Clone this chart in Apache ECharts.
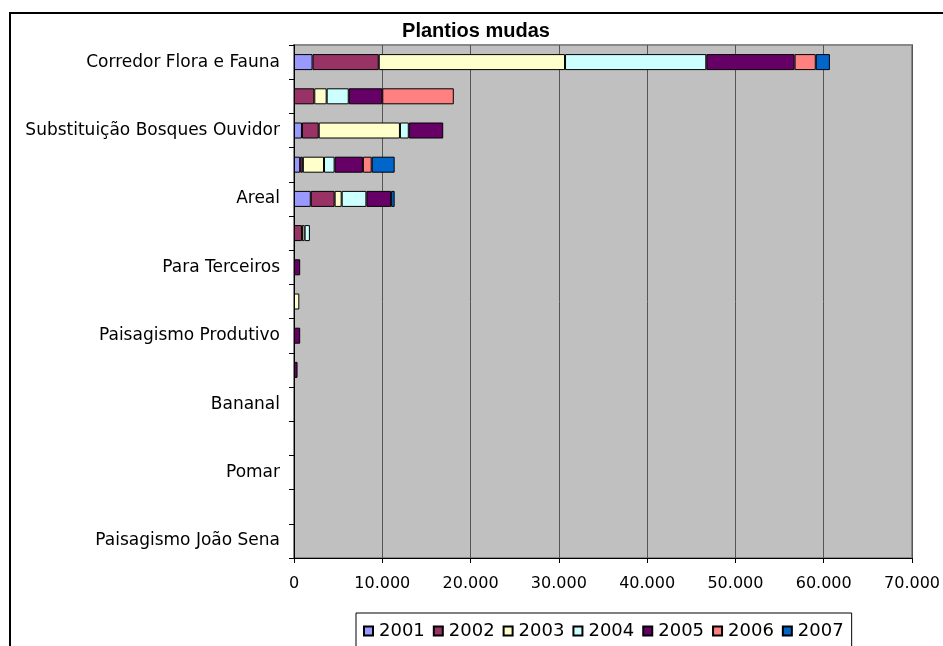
<!DOCTYPE html>
<html>
<head>
<meta charset="utf-8">
<script src="https://cdn.jsdelivr.net/npm/echarts@6/dist/echarts.min.js"></script>
<style>
  html, body { margin: 0; padding: 0; background: #fff; }
  #chart { width: 943px; height: 646px; }
</style>
</head>
<body>
<div id="chart"></div>
<script>
// Planting sites (top to bottom); only every other name is printed on the axis
const categories = [
  'Corredor Flora e Fauna',
  'Mata Ciliar',
  'Substituição Bosques Ouvidor',
  'Enriquecimento Florestal',
  'Areal',
  'Recomposição APP',
  'Para Terceiros',
  'Cerca Viva',
  'Paisagismo Produtivo',
  'Quintais',
  'Bananal',
  'Horta Comunitária',
  'Pomar',
  'Sistema Agroflorestal',
  'Paisagismo João Sena'
];

const years = ['2001', '2002', '2003', '2004', '2005', '2006', '2007'];

// Seedlings planted per year, one value per site
const v2001 = [2100,    0,  900,  700, 1900,   0,   0,   0,   0,   0, 0, 0, 0, 0, 0];
const v2002 = [7500, 2300, 1900,  300, 2700, 900,   0,   0,   0,   0, 0, 0, 0, 0, 0];
const v2003 = [21100, 1400, 9200, 2400,  800, 300,   0, 600,   0,   0, 0, 0, 0, 0, 0];
const v2004 = [16000, 2500, 1000, 1200, 2800, 600,   0,   0,   0,   0, 0, 0, 0, 0, 0];
const v2005 = [10000, 3800, 3900, 3200, 2800,   0, 700,   0, 700, 400, 0, 0, 0, 0, 0];
const v2006 = [2400, 8100,    0, 1000,    0,   0,   0,   0,   0,   0, 0, 0, 0, 0, 0];
const v2007 = [1600,    0,    0, 2600,  400,   0,   0,   0,   0,   0, 0, 0, 0, 0, 0];

const xTicks = { min: 0, max: 70000, step: 10000 };

const yearValues = [v2001, v2002, v2003, v2004, v2005, v2006, v2007];
const yearColors = ['#9999FF', '#993366', '#FFFFCC', '#CCFFFF', '#660066', '#FF8080', '#0066CC'];

// Thousands separator with a dot
const fmt = n => String(n).replace(/\B(?=(\d{3})+(?!\d))/g, '.');

// Empty segments are left out so they draw no outline
const asBarData = arr => arr.map(v => (v === 0 ? '-' : v));

const chart = echarts.init(document.getElementById('chart'), null, { renderer: 'canvas' });

chart.setOption({
  animation: false,
  backgroundColor: '#ffffff',
  textStyle: { fontFamily: 'DejaVu Sans' },
  title: {
    text: 'Plantios mudas',
    left: 476,
    textAlign: 'center',
    top: 21,
    padding: 0,
    textStyle: {
      fontFamily: 'Liberation Sans',
      fontWeight: 'bold',
      fontSize: 20,
      color: '#000'
    }
  },
  graphic: [{
    type: 'rect',
    shape: { x: 10, y: 13, width: 1000, height: 1000 },
    style: { fill: null, stroke: '#000', lineWidth: 2 },
    silent: true,
    z: -10
  }],
  legend: {
    left: 356,
    top: 613,
    orient: 'horizontal',
    itemWidth: 9,
    itemHeight: 9,
    itemGap: 8,
    padding: [9, 8, 30, 7],
    backgroundColor: '#fff',
    borderColor: '#000',
    borderWidth: 1,
    borderRadius: 0,
    icon: 'rect',
    textStyle: { fontFamily: 'DejaVu Sans', fontSize: 18, color: '#000', padding: [0, 0, 0, 1] },
    data: years
  },
  grid: {
    left: 294,
    right: 29,
    top: 45,
    bottom: 88,
    show: true,
    backgroundColor: '#C0C0C0',
    borderColor: '#888888',
    borderWidth: 2
  },
  xAxis: {
    type: 'value',
    min: xTicks.min,
    max: xTicks.max,
    interval: xTicks.step,
    axisLine: { show: true, lineStyle: { color: '#000', width: 1 } },
    axisTick: { show: true, length: 5, lineStyle: { color: '#000' } },
    axisLabel: {
      margin: 18,
      fontSize: 16,
      color: '#000',
      fontFamily: 'DejaVu Sans',
      formatter: v => fmt(v)
    },
    splitLine: { show: true, lineStyle: { color: '#555555', width: 1 } }
  },
  yAxis: {
    type: 'category',
    inverse: true,
    data: categories,
    axisLine: { show: true, lineStyle: { color: '#000', width: 1 } },
    axisTick: { show: true, length: 5, interval: 0, lineStyle: { color: '#000' } },
    axisLabel: {
      interval: 1,
      margin: 14,
      fontSize: 17,
      color: '#000',
      fontFamily: 'DejaVu Sans'
    },
    splitLine: { show: false }
  },
  series: years.map((y, i) => ({
    name: y,
    type: 'bar',
    stack: 'total',
    barWidth: 16,
    data: asBarData(yearValues[i]),
    itemStyle: {
      color: yearColors[i],
      borderColor: '#000',
      borderWidth: 1
    }
  }))
});
</script>
</body>
</html>
